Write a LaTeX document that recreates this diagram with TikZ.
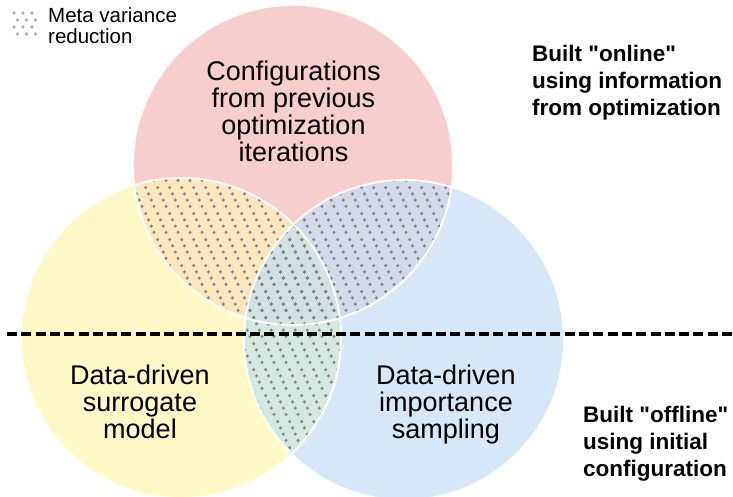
\documentclass[tikz,border=0pt]{standalone}
\usepackage{fontspec}
\setmainfont{Liberation Sans}[Ligatures=TeXOff]
\usetikzlibrary{patterns}
\definecolor{redc}{HTML}{F8CECC}
\definecolor{yelc}{HTML}{FFF9C8}
\definecolor{bluc}{HTML}{D6E8F7}
\definecolor{ryc}{HTML}{FBE6BE}
\definecolor{rbc}{HTML}{D4D9EC}
\definecolor{ybc}{HTML}{D4E8E2}
\definecolor{rybc}{HTML}{D0E2E3}
\definecolor{dotgray}{HTML}{858585}
\definecolor{legdot}{HTML}{B0B0B0}
\pgfdeclarepatternformonly{metadots}{\pgfqpoint{0pt}{0pt}}{\pgfqpoint{12pt}{26pt}}{\pgfqpoint{12pt}{26pt}}{%
  \pgfsetfillcolor{dotgray}%
  \pgfpathcircle{\pgfqpoint{1.8pt}{24.2pt}}{1.8pt}%
  \pgfpathcircle{\pgfqpoint{4.8pt}{17.7pt}}{1.8pt}%
  \pgfpathcircle{\pgfqpoint{7.8pt}{11.2pt}}{1.8pt}%
  \pgfpathcircle{\pgfqpoint{10.8pt}{4.7pt}}{1.8pt}%
  \pgfusepath{fill}}
\tikzset{
  bigtext/.style={inner sep=0pt, anchor=base, align=center, font=\fontsize{27}{27}\selectfont},
  sidetext/.style={inner sep=0pt, anchor=base west, align=left, font=\fontsize{22.5}{26.8}\selectfont\bfseries},
  legtext/.style={inner sep=0pt, anchor=base west, align=left, font=\fontsize{20.5}{20.6}\selectfont},
  rim/.style={draw=white, line width=1.8pt},
  divider/.style={line width=3.2pt, dash pattern=on 10pt off 4.3pt},
}
\begin{document}
\begin{tikzpicture}[x=1pt,y=-1pt]
\useasboundingbox (0,0) rectangle (733,497);
\coordinate (R) at (293,165);
\coordinate (Y) at (181,338);
\coordinate (B) at (404,340);
\def\rad{160}
% base fills
\fill[redc] (R) circle (\rad);
\fill[yelc] (Y) circle (\rad);
\fill[bluc] (B) circle (\rad);
% pairwise overlaps
\begin{scope}\clip (R) circle (\rad); \fill[ryc] (Y) circle (\rad); \end{scope}
\begin{scope}\clip (R) circle (\rad); \fill[rbc] (B) circle (\rad); \end{scope}
\begin{scope}\clip (Y) circle (\rad); \fill[ybc] (B) circle (\rad); \end{scope}
\begin{scope}\clip (R) circle (\rad); \clip (Y) circle (\rad); \fill[rybc] (B) circle (\rad); \end{scope}
% dotted pattern on overlaps
\begin{scope}\clip (R) circle (\rad); \fill[pattern=metadots] (Y) circle (\rad); \end{scope}
\begin{scope}\clip (R) circle (\rad); \fill[pattern=metadots] (B) circle (\rad); \end{scope}
\begin{scope}\clip (Y) circle (\rad); \fill[pattern=metadots] (B) circle (\rad); \end{scope}
% white rims
\draw[rim] (R) circle (\rad);
\draw[rim] (Y) circle (\rad);
\draw[rim] (B) circle (\rad);
% divider
\coordinate (dl) at (7,334);
\coordinate (dr) at (733,334);
\draw[divider] (dl) -- (dr);
% legend icon
\foreach \k in {0,1,2,3}{
  \foreach \j in {0,1,2}{
    \fill[legdot] ({14+9*\j+mod(\k,2)*3.5},{13+7*\k}) circle (1.8);
  }
}
\node[legtext] (leg) at (48,43.3) {Meta variance\\reduction};
% labels
\node[bigtext] (lr) at (293.5,161.7) {Configurations\\from previous\\optimization\\iterations};
\node[bigtext] (ly) at (140,438) {Data-driven\\surrogate\\model};
\node[bigtext] (lb) at (446,438) {Data-driven\\importance\\sampling};
\node[sidetext] (on) at (532,115.3) {Built "online"\\using information\\from optimization};
\node[sidetext] (off) at (583,476) {Built "offline"\\using initial\\configuration};
\end{tikzpicture}
\end{document}
